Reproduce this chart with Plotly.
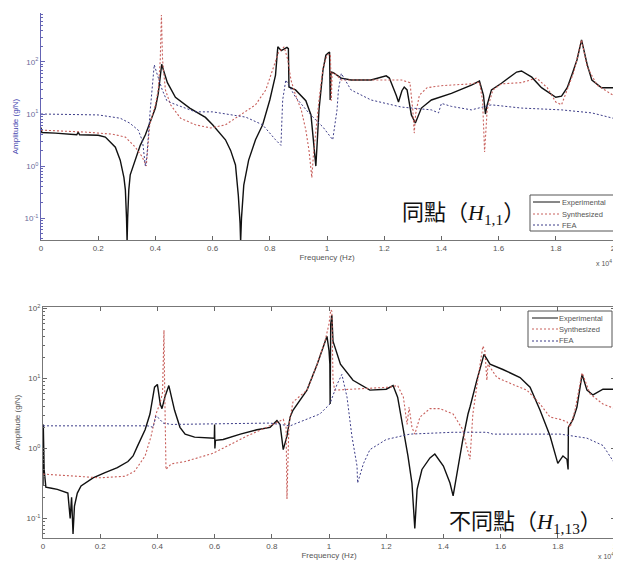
import plotly.graph_objects as go

# ---------------- data (frequency in units of 1e4 Hz, amplitude in g/N) ----------------
top_exp_f = [0, 0.003, 0.05, 0.1, 0.125, 0.13, 0.135, 0.2, 0.225, 0.26, 0.277, 0.29, 0.295, 0.299, 0.301, 0.303,
             0.307, 0.312, 0.33, 0.347, 0.365, 0.382, 0.40, 0.41, 0.417, 0.422, 0.428, 0.442, 0.47, 0.52, 0.575,
             0.6, 0.645, 0.663, 0.68, 0.69, 0.696, 0.698, 0.701, 0.709, 0.726, 0.75, 0.775, 0.80, 0.82, 0.828,
             0.84, 0.85, 0.86, 0.865, 0.867, 0.89, 0.926, 0.944, 0.954, 0.961, 0.966, 0.972, 0.986, 0.996, 1.005,
             1.009, 1.011, 1.014, 1.022, 1.05, 1.084, 1.154, 1.207, 1.218, 1.242, 1.25, 1.262, 1.27, 1.28, 1.295,
             1.309, 1.33, 1.365, 1.435, 1.505, 1.533, 1.547, 1.554, 1.56, 1.575, 1.61, 1.663, 1.68, 1.716, 1.75,
             1.786, 1.80, 1.82, 1.84, 1.856, 1.874, 1.89, 1.91, 1.926, 1.96, 2.0]
top_exp_a = [5.5, 4.4, 4.3, 4.1, 4.0, 4.5, 4.0, 3.9, 3.6, 2.3, 1.3, 0.6, 0.35, 0.1, 0.035, 0.1,
             0.35, 0.68, 1.4, 2.5, 4.0, 7.0, 13, 25, 60, 90, 70, 40, 21, 13, 8.6,
             6.2, 3.2, 2.0, 1.05, 0.27, 0.08, 0.035, 0.1, 0.43, 1.3, 3.2, 6.2, 18.6, 56, 195,
             165, 175, 190, 180, 33, 29, 18, 9.6, 2.5, 1.0, 3.0, 12, 70, 135, 150,
             155, 18.6, 64, 62, 49, 45, 45, 54, 49, 23, 17, 28, 33, 29, 9.6,
             6.7, 13, 18.6, 25, 36, 43, 23, 10, 15, 29, 39, 64, 67, 51, 32,
             23, 21, 22, 32, 56, 109, 265, 88, 45, 32, 32]

top_syn_f = [0, 0.154, 0.25, 0.295, 0.33, 0.354, 0.368, 0.372, 0.38, 0.40, 0.41, 0.417, 0.421, 0.425, 0.435,
             0.453, 0.488, 0.54, 0.593, 0.645, 0.698, 0.75, 0.786, 0.81, 0.83, 0.85, 0.863, 0.874, 0.89, 0.91,
             0.926, 0.937, 0.947, 0.952, 0.958, 0.972, 0.986, 1.0, 1.012, 1.015, 1.018, 1.025, 1.05, 1.084,
             1.26, 1.29, 1.30, 1.305, 1.31, 1.323, 1.35, 1.40, 1.505, 1.533, 1.544, 1.551, 1.556, 1.56, 1.58,
             1.61, 1.68, 1.733, 1.77, 1.80, 1.82, 1.84, 1.863, 1.89, 1.91, 1.944, 2.0]
top_syn_a = [4.9, 4.5, 4.1, 3.6, 2.3, 1.5, 1.0, 2.0, 6.2, 15, 29, 110, 800, 110, 29,
             15, 8.3, 6.2, 5.4, 6.2, 9.6, 15, 29, 70, 150, 195, 110, 45, 23, 12,
             4.9, 2.0, 0.6, 1.5, 3.2, 18.6, 76, 135, 140, 18, 60, 62, 45, 45,
             45, 40, 12, 4.3, 10, 23, 32, 35, 38, 41, 18, 1.86, 5, 12, 29,
             38, 40, 49, 32, 17, 15, 29, 64, 265, 80, 36, 23]

top_fea_f = [0, 0.2, 0.277, 0.31, 0.34, 0.355, 0.365, 0.37, 0.382, 0.393, 0.396, 0.407, 0.424, 0.44, 0.46,
             0.54, 0.6, 0.716, 0.775, 0.82, 0.839, 0.845, 0.856, 0.874, 0.89, 0.937, 0.986, 1.02, 1.035, 1.04,
             1.05, 1.084, 1.154, 1.26, 1.365, 1.39, 1.40, 1.435, 1.505, 1.575, 1.68, 1.82, 1.926, 2.0]
top_fea_a = [10, 9.6, 8.3, 6.7, 4.9, 3.0, 1.0, 1.5, 12, 45, 88, 56, 29, 18, 16,
             11, 11, 8.7, 6.2, 3.2, 2.5, 18.6, 45, 30, 21, 10.4, 5.6, 3.2, 12, 29,
             60, 29, 18.6, 13.6, 12, 10.5, 16, 14, 12, 15, 13, 12, 10.5, 8.3]

bot_exp_f = [0, 0.001, 0.004, 0.01, 0.03, 0.05, 0.087, 0.095, 0.1, 0.105, 0.11, 0.12, 0.133, 0.175, 0.217,
             0.26, 0.297, 0.315, 0.33, 0.357, 0.374, 0.39, 0.40, 0.41, 0.416, 0.426, 0.44, 0.46, 0.479, 0.497,
             0.53, 0.594, 0.599, 0.6, 0.601, 0.603, 0.63, 0.69, 0.748, 0.794, 0.818, 0.829, 0.84, 0.853, 0.864,
             0.874, 0.923, 0.958, 0.993, 1.0, 1.003, 1.004, 1.006, 1.01, 1.014, 1.04, 1.084, 1.143, 1.2, 1.224,
             1.24, 1.26, 1.276, 1.29, 1.30, 1.308, 1.325, 1.353, 1.37, 1.40, 1.423, 1.434, 1.447, 1.468, 1.486,
             1.493, 1.517, 1.542, 1.563, 1.608, 1.668, 1.703, 1.738, 1.773, 1.80, 1.818, 1.832, 1.836, 1.837,
             1.853, 1.867, 1.885, 1.902, 1.923, 1.958, 2.0]
bot_exp_a = [0.3, 2.2, 0.5, 0.28, 0.27, 0.26, 0.23, 0.1, 0.2, 0.06, 0.15, 0.23, 0.29, 0.38, 0.45,
             0.53, 0.65, 0.78, 1.07, 1.85, 3.1, 7.5, 8.2, 4.3, 3.7, 5.4, 7.9, 3.5, 2.0, 1.6,
             1.45, 1.4, 1.4, 2.2, 1.0, 1.3, 1.34, 1.6, 1.85, 2.0, 2.5, 2.2, 0.96, 1.5, 2.8,
             3.5, 6.8, 15.7, 40, 25, 16, 4.3, 60, 80, 34, 16, 9.4, 6.8, 7.0, 7.9,
             5.4, 1.85, 0.78, 0.32, 0.072, 0.26, 0.5, 0.73, 0.83, 0.56, 0.32, 0.21, 0.45, 1.34, 3.1,
             3.9, 9.4, 22, 16, 13.4, 10.3, 7.5, 3.5, 1.5, 0.61, 0.78, 0.7, 0.5, 2.0,
             2.6, 3.9, 11.4, 6.8, 5.8, 7.0, 7.0]

bot_syn_f = [0, 0.098, 0.2, 0.287, 0.32, 0.357, 0.378, 0.395, 0.41, 0.418, 0.421, 0.423, 0.425, 0.427, 0.43,
             0.448, 0.497, 0.594, 0.713, 0.804, 0.84, 0.85, 0.853, 0.857, 0.86, 0.874, 0.923, 0.958, 0.986, 1.0,
             1.006, 1.01, 1.014, 1.02, 1.213, 1.24, 1.26, 1.273, 1.28, 1.29, 1.30, 1.318, 1.353, 1.388, 1.434,
             1.468, 1.475, 1.493, 1.503, 1.52, 1.538, 1.545, 1.552, 1.556, 1.587, 1.643, 1.692, 1.738, 1.773,
             1.808, 1.832, 1.843, 1.86, 1.885, 1.913, 1.958, 2.0]
bot_syn_a = [0.43, 0.40, 0.38, 0.40, 0.47, 0.78, 1.5, 3.1, 4.5, 6.3, 20, 49, 10, 1.85, 0.5,
             0.6, 0.65, 0.85, 1.5, 2.2, 2.6, 2.0, 0.19, 0.8, 2.2, 4.6, 6.8, 15.7, 34, 60,
             95, 91, 9.4, 6.8, 7.5, 7.9, 5.4, 2.2, 3.9, 2.0, 1.6, 2.8, 3.7, 3.7, 3.1,
             1.85, 1.34, 0.7, 3.1, 9.4, 29, 25, 9.4, 16, 10.3, 8.2, 6.8, 4.3, 2.8,
             2.6, 2.4, 2.0, 3.5, 12, 6.0, 4.3, 3.7]

bot_fea_f = [0, 0.367, 0.385, 0.395, 0.405, 0.42, 0.45, 0.794, 0.864, 0.944, 0.968, 1.003, 1.028, 1.045, 1.063,
             1.08, 1.098, 1.10, 1.12, 1.143, 1.2, 1.283, 1.434, 1.552, 1.573, 1.808, 1.902, 1.958, 2.0]
bot_fea_a = [2.1, 2.1, 2.0, 2.9, 2.7, 2.3, 2.2, 2.3, 2.1, 2.8, 3.1, 4.3, 8.2, 11.4, 5.4,
             1.5, 0.56, 0.32, 0.6, 0.96, 1.34, 1.6, 1.7, 1.7, 1.6, 1.6, 1.4, 1.1, 0.6]

x_ticks = [0, 0.2, 0.4, 0.6, 0.8, 1, 1.2, 1.4, 1.6, 1.8, 2]
x_tick_labels = ["0", "0.2", "0.4", "0.6", "0.8", "1", "1.2", "1.4", "1.6", "1.8", "2"]
y_ticks = [0.1, 1, 10, 100]
y_tick_labels = ["10<sup>-1</sup>", "10<sup>0</sup>", "10<sup>1</sup>", "10<sup>2</sup>"]
series_names = ["Experimental", "Synthesized", "FEA"]

# ---------------- styles ----------------
EXP_C = "#111111"
SYN_C = "#c8605c"
FEA_C = "#3c3c88"
TXT_C = "#555555"
BLUE_AX = "#6464b4"
FONT = "Liberation Sans, Arial, sans-serif"
W, H = 621, 563
OFF = 8  # page body margin of the browser page


def px(x):
    return (x - OFF) / W


def py(y):
    return 1 - (y - OFF) / H


fig = go.Figure()
styles = [dict(color=EXP_C, width=1.4),
          dict(color=SYN_C, width=1.1, dash="2px,2px"),
          dict(color=FEA_C, width=1.0, dash="2px,2px")]


def add_set(series, xa, ya):
    for (fx, fa), name, st in zip(series, series_names, styles):
        fig.add_trace(go.Scatter(x=fx, y=fa, mode="lines", name=name, line=st,
                                 xaxis=xa, yaxis=ya, showlegend=False))


add_set([(top_exp_f, top_exp_a), (top_syn_f, top_syn_a), (top_fea_f, top_fea_a)], "x", "y")
add_set([(bot_exp_f, bot_exp_a), (bot_syn_f, bot_syn_a), (bot_fea_f, bot_fea_a)], "x2", "y2")

tickfont = dict(family=FONT, size=8, color=TXT_C)
xcommon = dict(range=[0, 2], tickvals=x_ticks, ticktext=x_tick_labels, ticks="inside", ticklen=4,
               tickcolor="#666", showline=True, linecolor="#777", linewidth=1, showgrid=False,
               zeroline=False, tickfont=tickfont, automargin=False,
               title=dict(text="Frequency (Hz)", font=dict(family=FONT, size=8, color=TXT_C), standoff=0))
ycommon = dict(type="log", tickvals=y_ticks, ticktext=y_tick_labels, ticks="inside", ticklen=4,
               showline=True, linewidth=1, showgrid=False, zeroline=False, automargin=False)

fig.update_layout(
    width=W, height=H, margin=dict(l=0, r=0, t=0, b=0),
    paper_bgcolor="white", plot_bgcolor="white", showlegend=False,
    xaxis=dict(domain=[px(41), px(613)], anchor="y", **xcommon),
    yaxis=dict(domain=[py(240), py(13)], anchor="x", range=[-1.42, 2.94],
               tickcolor=BLUE_AX, linecolor=BLUE_AX,
               tickfont=dict(family=FONT, size=8, color="#6a6a9a"),
               minor=dict(ticks="inside", ticklen=2, dtick="D1", tickcolor=BLUE_AX, showgrid=False),
               title=dict(text="Amplitude (g/N)", font=dict(family=FONT, size=8, color="#4848b0"), standoff=4),
               **ycommon),
    xaxis2=dict(domain=[px(43), px(615)], anchor="y2", mirror="allticks", **xcommon),
    yaxis2=dict(domain=[py(538), py(307)], anchor="x2", range=[-1.28, 2.02],
                tickcolor="#666", linecolor="#777", mirror="allticks", tickfont=tickfont,
                minor=dict(ticks="inside", ticklen=2, dtick="D1", tickcolor="#666", showgrid=False),
                title=dict(text="Amplitude (g/N)", font=dict(family=FONT, size=8, color=TXT_C), standoff=4),
                **ycommon),
)


# ---------------- hand-drawn legends (MATLAB style) ----------------
def add_legend(box, line_x0, line_x1, text_x, rows):
    x0, y0, x1, y1 = box
    fig.add_shape(type="rect", xref="paper", yref="paper", x0=px(x0), x1=px(x1), y0=py(y0), y1=py(y1),
                  line=dict(color="#555", width=1), fillcolor="white", layer="above")
    for name, st, ry in zip(series_names, styles, rows):
        fig.add_shape(type="line", xref="paper", yref="paper", x0=px(line_x0), x1=px(line_x1),
                      y0=py(ry), y1=py(ry), line=dict(color=st["color"], width=1.0, dash=st.get("dash")),
                      layer="above")
        fig.add_annotation(text=name, x=px(text_x), y=py(ry), xref="paper", yref="paper",
                           xanchor="left", yanchor="middle", showarrow=False,
                           font=dict(family=FONT, size=7.5, color=TXT_C))


add_legend((530, 195, 614, 231), 533, 560, 560, [202, 214, 225])
add_legend((528, 311, 612, 347), 532, 558, 557, [318, 329, 341])

ann_font = dict(family="Liberation Serif, Noto Sans CJK TC, serif", size=22, color="#111")
fig.add_annotation(text="同點（<i>H</i><sub>1,1</sub>）", x=px(527), y=py(214),
                   xref="paper", yref="paper", xanchor="right", yanchor="middle",
                   showarrow=False, font=ann_font)
fig.add_annotation(text="不同點（<i>H</i><sub>1,13</sub>）", x=px(604), y=py(523),
                   xref="paper", yref="paper", xanchor="right", yanchor="middle",
                   showarrow=False, font=ann_font)
fig.add_annotation(text="x 10<sup>4</sup>", x=px(614), y=py(263), xref="paper", yref="paper",
                   xanchor="right", yanchor="middle", showarrow=False,
                   font=dict(family=FONT, size=7, color=TXT_C))
fig.add_annotation(text="x 10<sup>4</sup>", x=px(616), y=py(556), xref="paper", yref="paper",
                   xanchor="right", yanchor="middle", showarrow=False,
                   font=dict(family=FONT, size=7, color=TXT_C))

fig.write_html("out.html")
